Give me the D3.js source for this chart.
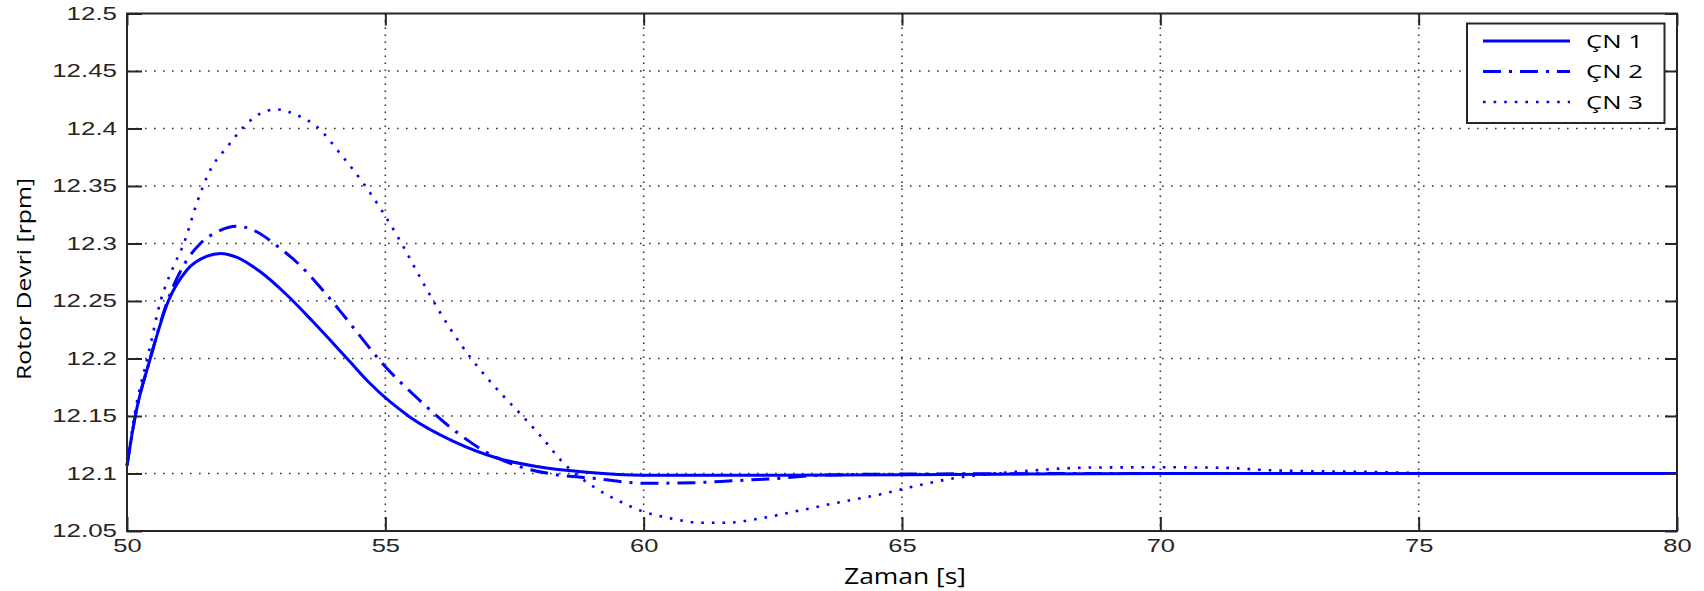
<!DOCTYPE html>
<html>
<head>
<meta charset="utf-8">
<script src="https://cdn.jsdelivr.net/npm/d3@7"></script>
<style>
  body { margin: 0; background: #fff; }
  svg { display: block; }
  .tick text { font-family: "Liberation Sans", Arial, sans-serif; font-size: 18.5px; fill: #262626; }
  .axis-title, .legend text { font-family: "Open Sans", "Noto Sans", sans-serif; fill: #000; }
</style>
</head>
<body>
<svg id="chart" width="1704" height="591"></svg>
<script>
// x ticks, y ticks
var xTicks = [50, 55, 60, 65, 70, 75, 80];
var yTicks = [12.05, 12.1, 12.15, 12.2, 12.25, 12.3, 12.35, 12.4, 12.45, 12.5];

var seriesNames = ["ÇN 1", "ÇN 2", "ÇN 3"];

// ÇN 1 (solid)
var t1 = [50, 50.16, 50.45, 50.8, 51.16, 51.55, 51.81, 52.13, 52.58, 53.1, 53.61, 54.26, 54.71, 55.48, 56.32, 57.16, 57.93, 58.9, 60, 62, 65, 70, 80];
var v1 = [12.107, 12.15, 12.2, 12.25, 12.277, 12.289, 12.2914, 12.288, 12.2754, 12.255, 12.2315, 12.2, 12.178, 12.149, 12.128, 12.1135, 12.106, 12.101, 12.0985, 12.0985, 12.099, 12.1, 12.1];

// ÇN 2 (dash-dot)
var t2 = [50, 50.16, 50.45, 50.8, 51.16, 51.42, 51.74, 52.13, 52.52, 52.9, 53.35, 53.74, 54.13, 54.52, 54.87, 55.68, 56.32, 57.1, 57.6, 58.3, 59.03, 60, 60.97, 61.74, 62.51, 63.55, 65, 70, 80];
var v2 = [12.107, 12.15, 12.2, 12.252, 12.2856, 12.3, 12.31, 12.315, 12.31, 12.298, 12.281, 12.262, 12.241, 12.219, 12.1995, 12.163, 12.138, 12.115, 12.106, 12.099, 12.0958, 12.0915, 12.092, 12.0937, 12.0955, 12.0987, 12.0995, 12.1, 12.1];

// ÇN 3 (dotted)
var t3 = [50, 50.15, 50.42, 50.65, 50.9, 51.1, 51.35, 51.61, 51.94, 52.26, 52.58, 52.9, 53.29, 53.68, 54.13, 54.58, 54.97, 55.29, 55.68, 56.06, 56.45, 56.84, 57.23, 57.61, 58, 58.45, 59.03, 59.55, 60, 60.52, 61.1, 61.61, 62.26, 62.9, 63.68, 64.52, 65.16, 66, 66.51, 67.35, 68.65, 70, 71.2, 72.19, 74.3, 75.5, 80];
var v3 = [12.107, 12.152, 12.205, 12.25, 12.28, 12.3, 12.335, 12.3638, 12.384, 12.4014, 12.413, 12.4166, 12.4116, 12.4014, 12.378, 12.352, 12.326, 12.302, 12.27, 12.24, 12.213, 12.19, 12.17, 12.152, 12.133, 12.109, 12.0885, 12.0755, 12.0667, 12.061, 12.0572, 12.0572, 12.061, 12.0667, 12.074, 12.0813, 12.088, 12.0958, 12.0987, 12.102, 12.1052, 12.1054, 12.105, 12.1027, 12.1012, 12.1, 12.1];

(function () {
  var margin = { left: 127, top: 13.5, right: 27, bottom: 60 },
    width = 1704 - margin.left - margin.right,
    height = 591 - margin.top - margin.bottom;

  var svg = d3.select("#chart");
  var chart = svg.append("g").attr("transform", `translate(${margin.left},${margin.top})`);

  var x = d3.scaleLinear().domain([50, 80]).range([0, width]);
  var y = d3.scaleLinear().domain([12.05, 12.5]).range([height, 0]);

  // grid (dotted)
  chart.append("g").selectAll("line")
    .data(yTicks.slice(1, -1))
    .join("line")
    .attr("x1", 0).attr("x2", width)
    .attr("y1", (d) => y(d)).attr("y2", (d) => y(d))
    .attr("stroke", "#333").attr("stroke-width", 1.6)
    .attr("stroke-dasharray", "1.6,7.4");
  chart.append("g").selectAll("line")
    .data(xTicks.slice(1, -1))
    .join("line")
    .attr("x1", (d) => x(d)).attr("x2", (d) => x(d))
    .attr("y1", 0).attr("y2", height)
    .attr("stroke", "#333").attr("stroke-width", 1.6)
    .attr("stroke-dasharray", "1.6,5.4");

  // series
  var series = [
    { name: seriesNames[0], t: t1, v: v1, dash: null, w: 3 },
    { name: seriesNames[1], t: t2, v: v2, dash: "18,8,3,8", w: 3 },
    { name: seriesNames[2], t: t3, v: v3, dash: "2.6,8", w: 2.6 }
  ];

  var line = d3.line()
    .x((d) => x(d[0]))
    .y((d) => y(d[1]))
    .curve(d3.curveMonotoneX);

  chart.append("g").selectAll("path")
    .data(series.slice().reverse())
    .join("path")
    .attr("d", (s) => line(d3.zip(s.t, s.v)))
    .attr("fill", "none")
    .attr("stroke", "#0000ff")
    .attr("stroke-width", (s) => s.w)
    .attr("stroke-dasharray", (s) => s.dash);

  // axes, ticks pointing inward
  var axisColor = "#262626";
  var yAxis = chart.append("g")
    .call(d3.axisLeft(y).tickValues(yTicks).tickFormat((d) => d3.format("")(+d.toFixed(2)))
      .tickSize(-15).tickSizeOuter(0).tickPadding(10));
  yAxis.selectAll("text")
    .attr("x", 0)
    .attr("transform", "translate(-10,0) scale(1.4,1)");

  var xAxis = chart.append("g")
    .attr("transform", `translate(0,${height})`)
    .call(d3.axisBottom(x).tickValues(xTicks).tickSize(-14).tickSizeOuter(0).tickPadding(8));
  xAxis.selectAll("text")
    .attr("transform", "scale(1.38,1)");

  chart.append("g")
    .call(d3.axisTop(x).tickValues(xTicks).tickSize(-12).tickSizeOuter(0).tickFormat(""));
  chart.append("g")
    .attr("transform", `translate(${width},0)`)
    .call(d3.axisRight(y).tickValues(yTicks).tickSize(-12).tickSizeOuter(0).tickFormat(""));

  chart.selectAll(".domain").remove();
  chart.selectAll(".tick line").attr("stroke", axisColor).attr("stroke-width", 2);

  chart.append("rect")
    .attr("width", width).attr("height", height)
    .attr("fill", "none")
    .attr("stroke", axisColor)
    .attr("stroke-width", 2);

  // axis titles
  chart.append("text")
    .attr("class", "axis-title")
    .attr("x", x(65) + 3)
    .attr("y", height + 53)
    .attr("text-anchor", "middle")
    .attr("font-size", 21)
    .attr("textLength", 122)
    .attr("lengthAdjust", "spacingAndGlyphs")
    .text("Zaman [s]");

  chart.append("text")
    .attr("class", "axis-title")
    .attr("transform", `translate(${31 - margin.left},${279 - margin.top}) rotate(-90)`)
    .attr("text-anchor", "middle")
    .attr("font-size", 20)
    .attr("textLength", 202)
    .attr("lengthAdjust", "spacingAndGlyphs")
    .text("Rotor Devri [rpm]");

  // legend
  var lg = chart.append("g")
    .attr("class", "legend")
    .attr("transform", `translate(${width - 210},10)`);
  lg.append("rect")
    .attr("width", 197.5).attr("height", 99.5)
    .attr("fill", "#fff")
    .attr("stroke", axisColor)
    .attr("stroke-width", 2);
  var items = lg.selectAll("g.item")
    .data(series)
    .join("g")
    .attr("class", "item")
    .attr("transform", (d, i) => `translate(0,${17.5 + i * 30.5})`);
  items.append("line")
    .attr("x1", 16).attr("x2", 103)
    .attr("stroke", "#0000ff")
    .attr("stroke-width", (s) => s.w)
    .attr("stroke-dasharray", (s) => s.dash);
  items.append("text")
    .attr("x", 119)
    .attr("y", 6.5)
    .attr("font-size", 19)
    .attr("textLength", 57)
    .attr("lengthAdjust", "spacingAndGlyphs")
    .text((s) => s.name);
})();
</script>
</body>
</html>
